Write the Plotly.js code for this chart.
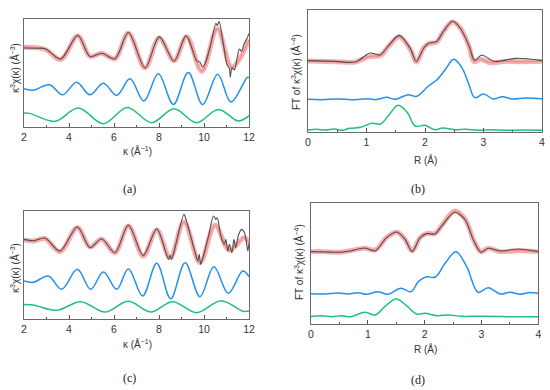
<!DOCTYPE html>
<html><head><meta charset="utf-8">
<script src="https://cdn.plot.ly/plotly-3.0.1.min.js"></script>
<style>html,body{margin:0;padding:0;background:#fff}#chart{width:550px;height:390px}</style>
</head><body><div id="chart"></div><script>
// ---- Panel (a): k-space, sample 1 ----
const kFitA = [2.00, 2.93, 3.63, 4.39, 4.93, 5.45, 6.04, 6.64, 7.38, 8.01, 8.67, 9.23, 9.90, 10.59, 11.24, 12.00];
const fitA  = [240, 234, 203, 274, 213, 222, 206, 282, 178, 268, 200, 272, 168, 295, 180, 262];
const kDataA = [2.00, 2.50, 2.93, 3.63, 4.39, 4.93, 5.45, 6.04, 6.64, 7.38, 8.01, 8.67, 9.20, 9.67, 9.82, 9.94, 10.04, 10.27, 10.53, 10.59, 10.67, 10.86, 11.01, 11.13, 11.17, 11.24, 11.35, 11.48, 11.57, 11.67, 11.78, 11.90, 12.00];
const dataA  = [238, 237, 236, 205, 276, 212, 222, 205, 285, 178, 272, 198, 275, 200, 195, 180, 190, 240, 312, 305, 318, 250, 190, 175, 150, 178, 172, 210, 235, 228, 250, 265, 282];
const kBlueA = [2.00, 2.41, 3.13, 3.72, 4.34, 4.93, 5.53, 6.12, 6.71, 7.33, 7.97, 8.64, 9.30, 9.94, 10.61, 11.20, 11.93, 12.00];
const blueA  = [115, 111, 127, 97, 135, 97, 132, 95, 145, 78, 160, 68, 164, 68, 159, 75, 150, 148];
const kGreenA = [2.00, 2.25, 3.38, 4.41, 5.53, 6.59, 7.67, 8.67, 9.67, 10.64, 11.53, 12.00];
const greenA  = [42, 41, 17, 57, 10, 59, 13, 55, 13, 53, 18, 34];

// ---- Panel (b): R-space, sample 1 ----
const rFitB = [0.00, 0.47, 0.81, 1.04, 1.24, 1.38, 1.56, 1.75, 1.85, 1.98, 2.06, 2.20, 2.32, 2.47, 2.60, 2.75, 2.84, 2.95, 3.11, 3.40, 3.60, 4.00];
const fitB  = [213, 211, 210, 226, 230, 258, 286, 248, 210, 253, 265, 270, 303, 330, 313, 258, 211, 218, 208, 212, 211, 212];
const rDataB = [0.00, 0.47, 0.81, 1.06, 1.23, 1.38, 1.56, 1.75, 1.85, 1.98, 2.06, 2.20, 2.32, 2.47, 2.60, 2.75, 2.85, 2.97, 3.18, 3.57, 4.00];
const dataB  = [214, 212, 210, 237, 231, 260, 290, 250, 212, 252, 266, 272, 303, 333, 312, 260, 215, 231, 212, 221, 214];
const rBlueB = [0.00, 0.24, 0.50, 0.75, 1.04, 1.16, 1.35, 1.49, 1.71, 1.86, 2.06, 2.20, 2.35, 2.49, 2.63, 2.75, 2.85, 3.00, 3.17, 3.32, 3.49, 3.72, 4.00];
const blueB  = [98, 97, 99, 97, 100, 97, 104, 98, 112, 107, 138, 156, 188, 218, 193, 143, 103, 114, 99, 106, 99, 102, 100];
const rGreenB = [0.00, 0.15, 0.30, 0.45, 0.58, 0.72, 0.90, 1.09, 1.24, 1.38, 1.54, 1.70, 1.83, 2.00, 2.17, 2.30, 2.50, 2.70, 2.90, 3.10, 3.40, 3.70, 4.00];
const greenB  = [6, 8, 6, 9, 5, 11, 14, 26, 24, 50, 80, 58, 18, 20, 7, 12, 7, 8, 5, 7, 5, 6, 5];

// ---- Panel (c): k-space, sample 2 ----
const kFitC = [2.00, 2.41, 2.93, 3.60, 4.37, 4.93, 5.45, 6.04, 6.64, 7.30, 7.90, 8.49, 9.11, 9.82, 10.49, 11.13, 11.78, 12.00];
const fitC  = [238, 235, 242, 203, 275, 217, 240, 200, 280, 190, 268, 185, 292, 170, 282, 208, 245, 230];
const kDataC = [2.00, 2.41, 2.93, 3.60, 4.37, 4.93, 5.45, 6.04, 6.64, 7.30, 7.90, 8.42, 8.49, 8.56, 8.64, 9.11, 9.20, 9.65, 9.73, 9.79, 9.85, 9.93, 10.20, 10.42, 10.53, 10.59, 10.75, 10.90, 10.97, 11.06, 11.13, 11.24, 11.33, 11.41, 11.52, 11.67, 11.80, 11.90, 11.95, 12.00];
const dataC  = [240, 236, 244, 205, 278, 215, 242, 200, 283, 192, 272, 180, 192, 180, 195, 315, 300, 190, 175, 195, 165, 180, 250, 310, 300, 305, 250, 225, 240, 205, 225, 200, 240, 215, 250, 270, 260, 225, 205, 230];
const kBlueC = [2.00, 2.41, 3.08, 3.67, 4.37, 4.96, 5.53, 6.12, 6.64, 7.27, 7.90, 8.52, 9.16, 9.82, 10.44, 11.08, 11.72, 12.00];
const blueC  = [115, 111, 130, 90, 150, 90, 142, 90, 152, 70, 168, 62, 170, 68, 158, 78, 145, 128];
const kGreenC = [2.00, 2.41, 3.45, 4.52, 5.60, 6.64, 7.63, 8.61, 9.67, 10.76, 11.75, 12.00];
const greenC  = [44, 43, 27, 53, 22, 54, 22, 53, 20, 56, 24, 25];

// ---- Panel (d): R-space, sample 2 ----
const rFitD = [0.00, 0.25, 0.48, 0.66, 0.95, 1.13, 1.33, 1.51, 1.65, 1.78, 1.92, 2.04, 2.18, 2.30, 2.53, 2.71, 2.86, 2.99, 3.12, 3.33, 3.65, 4.00];
const fitD  = [218, 218, 216, 220, 228, 223, 260, 276, 256, 220, 260, 273, 272, 296, 340, 316, 253, 218, 228, 218, 221, 218];
const rDataD = [0.00, 0.25, 0.48, 0.66, 0.95, 1.13, 1.33, 1.51, 1.65, 1.78, 1.92, 2.04, 2.18, 2.30, 2.53, 2.71, 2.86, 2.99, 3.12, 3.33, 3.65, 4.00];
const dataD  = [218, 217, 216, 219, 229, 220, 260, 277, 256, 218, 260, 272, 271, 295, 336, 314, 252, 216, 228, 220, 226, 218];
const rBlueD = [0.00, 0.25, 0.48, 0.66, 0.83, 0.98, 1.18, 1.35, 1.58, 1.76, 1.89, 2.02, 2.19, 2.36, 2.55, 2.74, 2.94, 3.12, 3.33, 3.50, 3.68, 3.82, 4.00];
const blueD  = [92, 91, 94, 91, 95, 90, 98, 90, 108, 98, 128, 142, 142, 183, 218, 173, 96, 110, 91, 96, 90, 95, 93];
const rGreenD = [0.00, 0.19, 0.36, 0.54, 0.70, 0.95, 1.13, 1.30, 1.50, 1.68, 1.86, 2.01, 2.21, 2.42, 2.65, 2.94, 3.41, 4.00];
const greenD  = [23, 26, 23, 26, 23, 36, 28, 53, 76, 56, 31, 33, 26, 28, 24, 24, 23, 23];

// ---- Labels ----
const kTitle = 'κ (Å<sup>−1</sup>)';
const rTitle = 'R (Å)';
const kYTitle = 'κ<sup>3</sup>χ(κ) (Å<sup>−3</sup>)';
const rYTitle = 'FT of κ<sup>3</sup>χ(κ) (Å<sup>−4</sup>)';
const panelLabels = ['(a)', '(b)', '(c)', '(d)'];

const FIT = 'rgba(240,95,95,0.5)';
const FIT_EDGE = 'rgba(235,60,60,0.55)';
const DATA = '#505050';
const BLUE = '#2390ec';
const GREEN = '#1fbf80';

function traces(xa, ya, xf, yf, xd, yd, xb, yb, xg, yg) {
  return [
    {x: xf, y: yf, xaxis: xa, yaxis: ya, mode: 'lines', line: {color: FIT, width: 5, shape: 'spline', smoothing: 1}, hoverinfo: 'skip'},
    {x: xf, y: yf, xaxis: xa, yaxis: ya, mode: 'lines', line: {color: FIT_EDGE, width: 1, shape: 'spline', smoothing: 1, dash: '2px,1px'}, hoverinfo: 'skip'},
    {x: xb, y: yb, xaxis: xa, yaxis: ya, mode: 'lines', line: {color: BLUE, width: 1.5, shape: 'spline', smoothing: 1}, hoverinfo: 'skip'},
    {x: xg, y: yg, xaxis: xa, yaxis: ya, mode: 'lines', line: {color: GREEN, width: 1.5, shape: 'spline', smoothing: 1}, hoverinfo: 'skip'},
    {x: xd, y: yd, xaxis: xa, yaxis: ya, mode: 'lines', line: {color: DATA, width: 1.1, shape: 'spline', smoothing: 0.8}, hoverinfo: 'skip'}
  ];
}

const data = [].concat(
  traces('x', 'y', kFitA, fitA, kDataA, dataA, kBlueA, blueA, kGreenA, greenA),
  traces('x2', 'y2', rFitB, fitB, rDataB, dataB, rBlueB, blueB, rGreenB, greenB),
  traces('x3', 'y3', kFitC, fitC, kDataC, dataC, kBlueC, blueC, kGreenC, greenC),
  traces('x4', 'y4', rFitD, fitD, rDataD, dataD, rBlueD, blueD, rGreenD, greenD)
);

const FONT = 'Liberation Sans, Arial, sans-serif';
function xax(domain, range, dtick, minor, anchor) {
  return {domain: domain, range: range, dtick: dtick, tick0: range[0], ticks: 'inside', ticklen: 4, tickwidth: 1, tickcolor: '#555',
    minor: {ticks: 'inside', ticklen: 2.5, dtick: minor, tickcolor: '#555', tickwidth: 1},
    showline: true, linecolor: '#6a6a6a', linewidth: 1, mirror: true, showgrid: false, zeroline: false,
    tickfont: {family: FONT, size: 10.5, color: '#333'}, anchor: anchor, fixedrange: true};
}
function yax(domain, range, anchor) {
  return {domain: domain, range: range, showticklabels: false, ticks: '', showline: true, linecolor: '#6a6a6a', linewidth: 1,
    mirror: true, showgrid: false, zeroline: false, anchor: anchor, fixedrange: true};
}
const W = 550, H = 390;
function px(x) { return x / W; }
function py(y) { return 1 - y / H; }

function ann(text, x, y, opts) {
  return Object.assign({text: text, x: px(x), y: py(y), xref: 'paper', yref: 'paper', showarrow: false,
    xanchor: 'center', yanchor: 'middle', font: {family: FONT, size: 10, color: '#333'}}, opts || {});
}
const serif = {font: {family: 'Liberation Serif, Times New Roman, serif', size: 12, color: '#222'}};

const layout = {
  width: W, height: H, margin: {l: 0, r: 0, t: 0, b: 0}, showlegend: false,
  paper_bgcolor: '#fff', plot_bgcolor: '#fff',
  xaxis: xax([px(24), px(249)], [2, 12], 2, 1, 'y'),
  yaxis: yax([py(127), py(18.7)], [0, 326], 'x'),
  xaxis2: xax([px(308), px(542)], [0, 4], 1, 0.5, 'y2'),
  yaxis2: yax([py(132), py(10)], [0, 366], 'x2'),
  xaxis3: xax([px(24), px(249)], [2, 12], 2, 1, 'y3'),
  yaxis3: yax([py(319.3), py(210.7)], [0, 326], 'x3'),
  xaxis4: xax([px(311), px(538.3)], [0, 4], 1, 0.5, 'y4'),
  yaxis4: yax([py(324.3), py(203.3)], [0, 363], 'x4'),
  annotations: [
    ann(kTitle, 137, 151), ann(rTitle, 425, 160), ann(kTitle, 137, 344), ann(rTitle, 425, 349),
    ann(kYTitle, 15, 68, {textangle: -90}), ann(rYTitle, 296, 72, {textangle: -90}),
    ann(kYTitle, 15, 268, {textangle: -90}), ann(rYTitle, 299, 262, {textangle: -90}),
    ann(panelLabels[0], 129, 189, serif), ann(panelLabels[1], 418, 189, serif),
    ann(panelLabels[2], 129, 378, serif), ann(panelLabels[3], 418, 380, serif)
  ]
};
Plotly.newPlot('chart', data, layout, {staticPlot: true, displayModeBar: false});
</script></body></html>
